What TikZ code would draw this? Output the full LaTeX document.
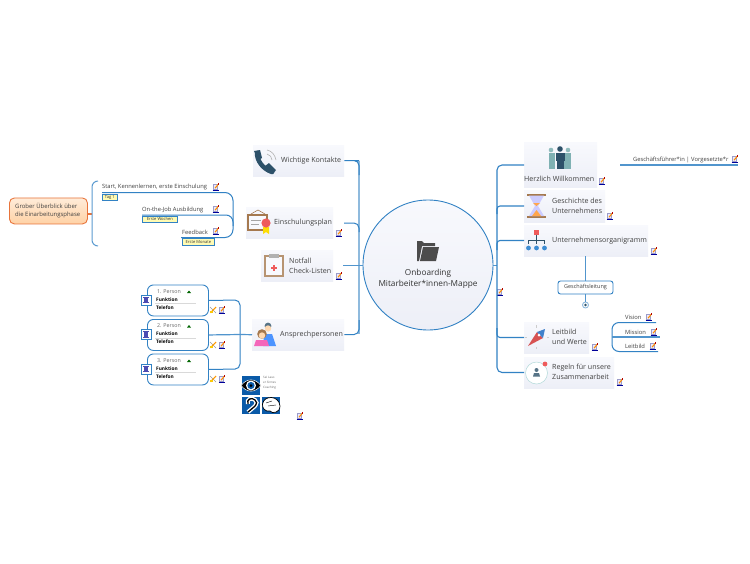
\documentclass[tikz,border=0pt]{standalone}
\usepackage{fontspec}
\setmainfont{Open Sans}
\usetikzlibrary{shapes.geometric}
\definecolor{linkb}{HTML}{3282C4}
\definecolor{trunkl}{HTML}{8FBADD}
\definecolor{txt}{HTML}{404040}
\definecolor{boxtop}{HTML}{F8F9FD}
\definecolor{boxbot}{HTML}{EDEFF7}
\definecolor{teald}{HTML}{2D5169}
\definecolor{tealm}{HTML}{5F9EA0}
\definecolor{redm}{HTML}{EF5B5B}
\definecolor{brownm}{HTML}{A5794F}
\definecolor{orangel}{HTML}{E8743B}
\tikzset{
 link/.style={draw=linkb,line width=1pt,rounded corners=5pt},
 straightlink/.style={draw=linkb!85,line width=1.5pt},
 topicbox/.style={anchor=north west,inner sep=0pt,top color=boxtop,bottom color=boxbot,draw=none},
 lab/.style={font=\fontsize{7.1}{10.3}\selectfont,text=txt,inner sep=0pt,align=left},
 sublab/.style={font=\fontsize{5.8}{7}\selectfont,text=txt,inner sep=0pt,anchor=west},
 tagbox/.style={anchor=north west,draw=linkb,line width=.8pt,fill=yellow!30,font=\fontsize{4.1}{5}\selectfont,text=black!80,inner sep=0pt,minimum height=6.5pt,align=center},
 personbox/.style={anchor=north west,draw=linkb,line width=.9pt,rounded corners=6pt,fill=white,minimum width=61pt,minimum height=31pt,inner sep=0pt},
 pers/.style={font=\fontsize{5.3}{6}\selectfont,text=black!60,inner sep=0pt,anchor=west},
 persb/.style={font=\fontsize{4.8}{6}\selectfont\bfseries,text=black,inner sep=0pt,anchor=west},
 note/.pic={
  \fill[white] (-3,-3) rectangle (3,3);
  \fill[blue!30!gray!60] (-3,-3) rectangle (1.8,2.6);
  \fill[blue!8] (-2.2,-2.2) rectangle (1,1.8);
  \draw[orange!90!yellow,line width=1.1pt] (-1,1.2) -- (2.2,-2.6);
  \fill[red!70!black] (1.8,-3.6) rectangle (3.2,-2.4);
  \draw[blue!60!black,line width=.6pt] (-3.4,3.6) -- (3,3.6);
 },
 tool/.pic={
  \draw[gray!80,line width=.7pt] (-3,-3) -- (3,3);
  \draw[orange!80!yellow,line width=1.1pt] (3,-3) -- (-2.5,2.8);
  \fill[yellow!60!orange] (-3,0.8) rectangle (0,3.4);
 },
 persico/.pic={
  \draw[linkb,line width=.9pt,fill=white] (-5,-5) rectangle (5,5);
  \fill[blue!40!gray] (-2.8,-3.4) rectangle (2.8,-2.2);
  \fill[blue!40!gray] (-1.8,-2.2) rectangle (1.8,2.2);
  \fill[blue!40!gray] (-2.8,2.2) rectangle (2.8,3.4);
 },
}
\begin{document}
\begin{tikzpicture}[x=1pt,y=-1pt]
\useasboundingbox[fill=white] (0,0) rectangle (750,563);

% centre
\node[circle,draw=linkb,line width=.9pt,top color=boxtop,bottom color=boxbot,minimum size=130pt,inner sep=0pt] (center) at (428,265) {};
\fill[black!70] (417,241) -- (422,241) -- (424,243) -- (435,243) -- (435,246) -- (422,246) -- (419,261) -- (417,261) -- cycle;
\fill[black!70] (423,247) -- (439,247) -- (436,261) -- (420,261) -- cycle;
\node[font=\fontsize{8.25}{11}\selectfont,text=black!80,align=center,inner sep=0pt] (centertext) at (428,278.5) {Onboarding\\Mitarbeiter*innen-Mappe};
\pic at (500,292) {note};

% left trunk
\coordinate (ltop) at (359,161);
\coordinate (lbot) at (359,334);
\coordinate (lmid) at (359,265.5);
\draw[trunkl,line width=1.6pt] (ltop) -- (lbot);
\draw[straightlink] (lmid) -- (center.west |- lmid);

% right trunk
\coordinate (rmid) at (497,265.5);
\draw[straightlink] (center.east |- rmid) -- (rmid);

% left topics
\node[topicbox,minimum width=91pt,minimum height=31pt] (kontakte) at (253,145) {};
\node[topicbox,minimum width=87pt,minimum height=31pt] (einsch) at (246,207) {};
\node[topicbox,minimum width=72pt,minimum height=31pt] (notfall) at (261,250) {};
\node[topicbox,minimum width=92pt,minimum height=31pt] (ansprech) at (252,319) {};
\node[lab,anchor=west] (tk) at (281,161) {Wichtige Kontakte};
\node[lab,anchor=west] (te) at (274,222.5) {Einschulungsplan};
\node[lab,anchor=west] (tn) at (289,265.5) {Notfall\\Check-Listen};
\node[lab,anchor=west] (ta) at (280,334.5) {Ansprechpersonen};
\coordinate (estart) at (344,223);
\coordinate (nstart) at (343,265.5);
\draw[link] (kontakte.east) -- (354,160.5) -- (359,160.5) -- (359,175);
\draw[link] (estart) -- (359,223) -- (359,232);
\draw[straightlink] (nstart) -- (lmid);
\draw[link] (ansprech.east) -- (359,334.5) -- (359,320);
\pic at (339,233) {note};
\pic at (339,276) {note};

% phone
\draw[teald,line width=4.5pt,line cap=round] (257,153) .. controls (257,161) and (263,169) .. (272,172);
\fill[teald] (254,151) -- (260,150) -- (262,158) -- (258,160) -- cycle;
\fill[teald] (265,166) -- (269,163) -- (276,170) -- (273,174) -- cycle;
\draw[gray!60,line width=.6pt] (267,150) .. controls (272,151) and (275,155) .. (276,160);
\draw[gray!60,line width=.6pt] (267,154) .. controls (270,155) and (272,157) .. (272,160);
% certificate
\fill[brownm] (247,214) rectangle (268,231);
\fill[boxtop] (249,216) rectangle (266,229);
\draw[brownm,line width=.6pt] (251,214) -- (258,210) -- (265,214);
\draw[gray!70,line width=.6pt] (251,220) -- (261,220) (251,224) -- (259,224);
\fill[yellow!80!orange] (263,227) -- (269,227) -- (269,234) -- (266,232) -- (263,234) -- cycle;
\fill[redm] (266,223) circle (4.6);
% clipboard
\draw[brownm!80,line width=1.2pt,fill=boxtop] (265,256) rectangle (283,276);
\fill[gray!60] (269,254) rectangle (279,258);
\fill[redm] (273,265) rectangle (275,271);
\fill[redm] (271,267) rectangle (277,269);
% couple
\fill[teald!80] (268,326) circle (3.4);
\fill[orange!30] (268,328.5) circle (3.2);
\fill[blue!60!cyan!70] (263,346) -- (264,334) -- (272,334) -- (276,346) -- cycle;
\fill[brownm] (262,334) circle (4.8);
\fill[orange!30] (262,335.5) circle (3.2);
\fill[magenta!60] (254,346) -- (256,340) -- (267,340) -- (269,346) -- cycle;

% persons
\node[personbox] (p1) at (147,284.5) {};
\node[personbox] (p2) at (147,319) {};
\node[personbox] (p3) at (147,353.5) {};
\coordinate (pj) at (240,334.5);
\draw[link] (p1.east) -- (240,300) -- (pj);
\draw[link] (p3.east) -- (240,369) -- (pj);
\draw[straightlink,line width=1.2pt] (p2.east) -- (pj) -- (ansprech.west);
\foreach \n/\y/\t in {1/291.5/1. Person,2/326/2. Person,3/360.5/3. Person}{
 \node[pers] (pn\n) at (157,\y) {\t};
 \fill[green!40!black] (187,\y+1.5) -- (189,\y-1) -- (191,\y+1.5) -- cycle;
 \node[persb] (pf\n) at (156,\y+8) {Funktion};
 \node[persb] (pt\n) at (156,\y+16) {Telefon};
 \draw[gray!30,line width=.3pt] (155,\y+12) -- (196,\y+12);
 \pic at (146,\y+8.5) {persico};
}
\foreach \y in {310,345,379}{
 \pic at (213,\y) {tool};
 \pic at (222,\y) {note};
}

% sense images
\definecolor{sensb}{HTML}{0A5AA8}
\fill[sensb] (242,376) rectangle (260,395);
\draw[white,fill=black,line width=.5pt] (241,385.5) .. controls (247,378) and (255,378) .. (261,385.5) .. controls (255,393) and (247,393) .. (241,385.5) -- cycle;
\fill[white] (251,385.5) circle (5);
\fill[sensb] (251,385.5) circle (3.6);
\fill[black] (251,385.5) circle (1.5);
\fill[sensb] (242,397) rectangle (260,414);
\draw[white,line width=4pt] (248,412) .. controls (255,406) and (259,404) .. (255,400) .. controls (252,397) and (246,399) .. (248,404);
\draw[black,line width=1.3pt] (248,412) .. controls (255,406) and (259,404) .. (255,400) .. controls (252,397) and (246,399) .. (248,404);
\fill[sensb] (262,397) rectangle (280,414);
\draw[black,fill=white,line width=.7pt] (262.5,404) .. controls (264,395) and (279,395) .. (280,406) .. controls (280,413) and (272,414) .. (270,411) .. controls (265,412) and (262,408) .. (262.5,404) -- cycle;
\draw[black,line width=.4pt] (266,403) -- (272,401) (268,406) -- (276,405);
\node[font=\fontsize{3}{5.2}\selectfont,text=black!60,inner sep=0pt,align=left,anchor=west] (senses) at (263,383) {Sei Laus\\er Sinnes\\Coaching};
\pic at (300,416) {note};

% grober
\node[anchor=north west,draw=orangel,line width=.9pt,rounded corners=5pt,top color=orange!15,bottom color=orange!35,minimum width=78pt,minimum height=26pt,inner sep=0pt] (grober) at (9,197.5) {};
\node[font=\fontsize{5.95}{8.3}\selectfont,text=txt,align=left,inner sep=0pt,anchor=west] (grobertext) at (15,210.5) {Grober Überblick über\\die Einarbeitungsphase};
\coordinate (bt) at (98,181);
\coordinate (bb) at (98,246);
\coordinate (bm) at (92,214);
\draw[orangel,line width=1.2pt] (87,214) -- (bm);
\draw[link,draw=linkb!80,rounded corners=6pt] (bt) -- (92,181) -- (92,246) -- (bb);

% items
\node[sublab] (st) at (102,187) {Start, Kennenlernen, erste Einschulung};
\node[sublab] (oj) at (142,210) {On-the-Job Ausbildung};
\node[sublab] (fb) at (182,232) {Feedback};
\coordinate (sl) at (102,192.5);
\coordinate (ol) at (142,215);
\coordinate (fl) at (181,237.5);
\draw[link,rounded corners=8pt] (sl) -- (233,192.5) -- (233,237.5) -- (fl);
\draw[link,rounded corners=7pt] (ol) -- (233,215) -- (233,226);
\node[tagbox,minimum width=15pt] (tag1) at (102,193.5) {Tag 1};
\node[tagbox,minimum width=35pt] (tag2) at (142,215.5) {Erste Wochen};
\node[tagbox,minimum width=32pt] (tag3) at (182,238) {Erste Monate};
\pic at (216,187) {note};
\pic at (216,209) {note};
\pic at (216,231) {note};

% right topics
\node[topicbox,minimum width=73pt,minimum height=45pt] (herz) at (524,142) {};
\node[topicbox,minimum width=81pt,minimum height=32pt] (gesch) at (524,190) {};
\node[topicbox,minimum width=124pt,minimum height=31pt] (unter) at (524,225) {};
\node[topicbox,minimum width=65pt,minimum height=31pt] (leit) at (524,322) {};
\node[topicbox,minimum width=90pt,minimum height=31pt] (regel) at (524,357) {};
\node[lab,anchor=west] (th) at (524,178.5) {Herzlich Willkommen};
\node[lab,anchor=west] (tg) at (552,206) {Geschichte des\\Unternehmens};
\node[lab,anchor=west] (tu) at (552,241) {Unternehmensorganigramm};
\node[lab,anchor=west] (tl) at (552,337) {Leitbild\\und Werte};
\node[lab,anchor=west] (tr) at (552,372) {Regeln für unsere\\Zusammenarbeit};
\coordinate (hl) at (524,165);
\coordinate (gl) at (524,206);
\coordinate (ul) at (524,240.5);
\coordinate (ll) at (524,337.5);
\coordinate (rl) at (524,372.5);
\draw[link,line width=1.1pt] (hl) -- (497,165) -- (497,372.5) -- (rl);
\draw[link,line width=1.1pt,rounded corners=3pt] (gl) -- (497,206) -- (497,214);
\draw[link,line width=1.1pt,rounded corners=3pt] (ul) -- (497,240.5) -- (497,250);
\draw[link,line width=1.1pt,rounded corners=3pt] (ll) -- (497,337.5) -- (497,328);
\pic at (602,181) {note};
\pic at (610,216) {note};
\pic at (654,251) {note};
\pic at (595,347) {note};
\pic at (620,382) {note};

% people
\fill[tealm!70] (551,150) circle (2.3);
\fill[tealm!70] (568,150) circle (2.3);
\fill[tealm!80] (549,153) rectangle (555,169);
\fill[tealm!80] (564,153) rectangle (571,169);
\fill[teald] (560,149) circle (2.8);
\fill[teald] (556,153) rectangle (565,161);
\fill[teald] (557,161) rectangle (564,169);
% hourglass
\fill[brownm] (527,194) rectangle (546,195.5);
\fill[brownm] (527,216) rectangle (546,217.5);
\fill[blue!20] (529,195.5) -- (544,195.5) -- (538,206) -- (544,216) -- (529,216) -- (535,206) -- cycle;
\fill[orange!70] (532,216) -- (541,216) -- (536.5,210) -- cycle;
\fill[orange!70] (533,203) -- (540,203) -- (536.5,206) -- cycle;
% org chart
\fill[redm] (534,230) rectangle (539,235);
\draw[teald,line width=.7pt] (536.5,235) -- (536.5,240) (528.5,244) -- (528.5,240) -- (544.5,240) -- (544.5,244) (536.5,240) -- (536.5,244);
\fill[cyan!60!blue!80] (528.5,248) circle (2.4) (536.5,248) circle (2.4) (544.5,248) circle (2.4);
% compass
\fill[redm!90!black] (528,346) -- (537,332) -- (543,338) -- cycle;
\fill[cyan!50!blue!80] (545,329) -- (537,332) -- (543,338) -- cycle;
\fill[white] (539,335) circle (1.5);
\draw[gray!40,line width=.4pt] (536,325) -- (536,328) (536,347) -- (536,349) (525,337) -- (527,337) (547,337) -- (549,337);
% rules icon
\draw[teal!30,line width=.5pt,fill=white] (536.5,373) circle (11);
\fill[teald!80] (536.5,370) circle (2);
\fill[teald!80] (533,376.5) -- (534,373) -- (539,373) -- (540,376.5) -- cycle;
\fill[redm] (545,364) circle (2.4);

% Geschäftsführer
\coordinate (gfs) at (620,165);
\coordinate (gfe) at (738,165);
\draw[straightlink,line width=1.1pt] (gfs) -- (gfe);
\node[font=\fontsize{5.8}{7}\selectfont,text=txt,inner sep=0pt,anchor=west] (gf) at (633,159.5) {Geschäftsführer*in | Vorgesetzte*r};
\pic at (735,159) {note};

% Geschäftsleitung
\node[draw=linkb,line width=.9pt,rounded corners=2.5pt,fill=white,minimum width=55pt,minimum height=13pt,inner sep=0pt,font=\fontsize{5.5}{6}\selectfont,text=txt] (gl2) at (585.5,287.5) {Geschäftsleitung};
\node[circle,draw=trunkl,fill=white,line width=.9pt,minimum size=6pt,inner sep=0pt] (dot) at (585.5,305) {};
\fill[teald] (dot) circle (1.4);
\draw[straightlink,line width=1.1pt] (unter.south -| gl2) -- (gl2.north);
\draw[straightlink,line width=1.1pt] (gl2.south) -- (dot.north);

% Leitbild subs
\node[sublab] (vi) at (625,317) {Vision};
\node[sublab] (mi) at (625,332) {Mission};
\node[sublab] (lb) at (625,346) {Leitbild};
\coordinate (vl) at (656,322.5);
\coordinate (ml) at (660,337);
\coordinate (bl) at (658,351.5);
\coordinate (mjoin) at (612,337);
\draw[link,rounded corners=7pt] (vl) -- (612,322.5) -- (612,351.5) -- (bl);
\draw[straightlink,line width=1.1pt] (mjoin) -- (ml);
\pic at (649,317) {note};
\pic at (654,332) {note};
\pic at (653,346) {note};
\end{tikzpicture}
\end{document}
